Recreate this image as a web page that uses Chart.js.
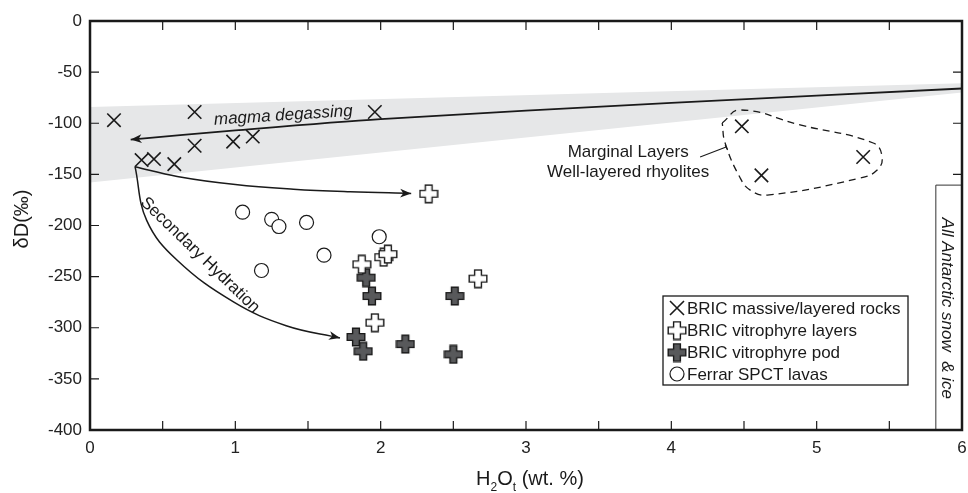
<!DOCTYPE html>
<html>
<head>
<meta charset="utf-8">
<script src="https://cdn.jsdelivr.net/npm/chart.js@4.4.0/dist/chart.umd.min.js"></script>
<style>
html,body{margin:0;padding:0;background:#fff;}
#wrap{width:968px;height:493px;}
</style>
</head>
<body>
<div id="wrap"><canvas id="myChart" width="968" height="493"></canvas></div>
<script>
// BRIC massive/layered rocks
const massiveX=[0.165,0.72,0.985,1.12,0.72,0.355,0.44,0.58,1.96,4.485,4.62,5.32];
const massiveY=[-97,-89,-118,-113,-122,-136,-135,-140,-89,-103,-151,-133];
// BRIC vitrophyre layers
const layersX=[2.33,1.87,2.02,2.05,2.67,1.96];
const layersY=[-169,-238,-231,-228,-252,-295];
// BRIC vitrophyre pod
const podX=[1.90,1.94,2.51,1.83,1.88,2.17,2.50];
const podY=[-251,-269,-269,-309,-323,-316,-326];
// Ferrar SPCT lavas
const ferrarX=[1.05,1.25,1.30,1.49,1.18,1.61,1.99];
const ferrarY=[-187,-194,-201,-197,-244,-229,-211];

// grey magma field
const bandX=[0,6];
const bandTopY=[-84,-61];
const bandBotY=[-158,-70];
// arrows
const degassX=[6,4,2,1,0.28];
const degassY=[-66,-80,-96,-107,-116];
const flatX=[0.31,0.6,1.0,1.4,1.79,2.21];
const flatY=[-142.5,-152,-160,-164.5,-167,-168.6];
const hydX=[0.31,0.39,0.6,0.99,1.35,1.72];
const hydY=[-142.5,-195,-234,-275,-298,-310];
// marginal layers outline
const loopX=[4.35,4.474,4.886,5.389,5.45,5.416,5.30,4.66,4.543,4.474,4.37,4.35];
const loopY=[-99.7,-87,-101.7,-119.3,-133,-145.8,-153.6,-170.3,-165.4,-153.6,-119.3,-99.7];
// snow & ice box
const iceX=[5.82,5.82,6];
const iceY=[-400,-160.5,-160.5];

const xTicks=[0,1,2,3,4,5,6];
const legendLabels=['BRIC massive/layered rocks','BRIC vitrophyre layers','BRIC vitrophyre pod','Ferrar SPCT lavas'];

const pts=(xs,ys)=>xs.map((x,i)=>({x:x,y:ys[i]}));
const FONT='"Liberation Sans", Arial, sans-serif';
const INK='#1a1a1a';

function plusImage(fill){
	const c=document.createElement('canvas');
	c.width=20; c.height=20;
	const g=c.getContext('2d');
	const a=3.4, b=8.8, m=10;
	g.beginPath();
	g.moveTo(m-a,m-b); g.lineTo(m+a,m-b); g.lineTo(m+a,m-a); g.lineTo(m+b,m-a);
	g.lineTo(m+b,m+a); g.lineTo(m+a,m+a); g.lineTo(m+a,m+b); g.lineTo(m-a,m+b);
	g.lineTo(m-a,m+a); g.lineTo(m-b,m+a); g.lineTo(m-b,m-a); g.lineTo(m-a,m-a);
	g.closePath();
	g.fillStyle=fill; g.fill();
	g.lineWidth=1.4; g.strokeStyle=INK; g.stroke();
	return c;
}
const whitePlus=plusImage('#ffffff');
const greyPlus=plusImage('#58595b');

function arrowHead(ctx,fx,fy,tx,ty){
	const ang=Math.atan2(ty-fy,tx-fx), L=11, W=4.3;
	ctx.save();
	ctx.translate(tx,ty); ctx.rotate(ang);
	ctx.beginPath();
	ctx.moveTo(0,0); ctx.lineTo(-L,-W); ctx.lineTo(-L*0.72,0); ctx.lineTo(-L,W);
	ctx.closePath();
	ctx.fillStyle=INK; ctx.fill();
	ctx.restore();
}

function textAt(ctx,str,x,y,deg,font){
	ctx.save();
	ctx.translate(x,y); ctx.rotate(deg*Math.PI/180);
	ctx.font=font; ctx.fillStyle=INK;
	ctx.textAlign='center'; ctx.textBaseline='middle';
	ctx.fillText(str,0,0);
	ctx.restore();
}

const extras={
	id:'extras',
	afterDraw(chart){
		const ctx=chart.ctx, xs=chart.scales.x, ys=chart.scales.y, a=chart.chartArea;
		const X=v=>xs.getPixelForValue(v), Y=v=>ys.getPixelForValue(v);

		// arrow heads at the end of the three curves
		[2,3,4].forEach(function(i){
			const d=chart.getDatasetMeta(i).data;
			const p=d[d.length-1], q=d[d.length-2];
			let fx=q.x, fy=q.y;
			if(p.cp1x!==undefined && Math.hypot(p.cp1x-p.x,p.cp1y-p.y)>1){fx=p.cp1x; fy=p.cp1y;}
			arrowHead(ctx,fx,fy,p.x,p.y);
		});

		// frame
		ctx.save();
		ctx.strokeStyle=INK; ctx.lineWidth=2.5;
		ctx.strokeRect(a.left,a.top,a.right-a.left,a.bottom-a.top);
		// inward ticks
		ctx.lineWidth=1.2;
		ctx.beginPath();
		xs.ticks.forEach(function(t){
			if(t.value<=xs.min || t.value>=xs.max) return;
			const px=X(t.value);
			ctx.moveTo(px,a.bottom); ctx.lineTo(px,a.bottom-9);
			ctx.moveTo(px,a.top); ctx.lineTo(px,a.top+9);
		});
		ys.ticks.forEach(function(t){
			if(t.value<=ys.min || t.value>=ys.max) return;
			const py=Y(t.value);
			ctx.moveTo(a.left,py); ctx.lineTo(a.left+9,py);
			if(t.value>iceY[1]){ ctx.moveTo(a.right,py); ctx.lineTo(a.right-9,py); }
		});
		ctx.stroke();

		// leader line for marginal layers
		ctx.lineWidth=1.1;
		ctx.beginPath();
		ctx.moveTo(X(4.198),Y(-133)); ctx.lineTo(X(4.377),Y(-123.2));
		ctx.moveTo(X(4.377)-1,Y(-123.2)-2); ctx.lineTo(X(4.377)+1.5,Y(-123.2)+3);
		ctx.stroke();
		ctx.restore();

		// annotations
		textAt(ctx,'magma degassing',X(1.33),Y(-92.5),-3.7,'italic 17px '+FONT);
		textAt(ctx,'Secondary Hydration',X(0.757),Y(-229),44,'17px '+FONT);
		textAt(ctx,'Marginal Layers',X(3.703),Y(-128),0,'17px '+FONT);
		textAt(ctx,'Well-layered rhyolites',X(3.703),Y(-147.6),0,'17px '+FONT);
		textAt(ctx,'All Antarctic snow  & ice',X(5.898),Y(-281),90,'italic 17px '+FONT);

		// axis titles
		textAt(ctx,'δD(‰)',22,219,-90,'20px '+FONT);
		ctx.save();
		ctx.fillStyle=INK; ctx.textBaseline='alphabetic'; ctx.textAlign='left';
		const big='20px '+FONT, small='12px '+FONT;
		const parts=[['H',big,0],['2',small,6],['O',big,0],['t',small,6],[' (wt. %)',big,0]];
		let w=0;
		parts.forEach(function(p){ctx.font=p[1]; w+=ctx.measureText(p[0]).width;});
		let cx=530-w/2;
		parts.forEach(function(p){ctx.font=p[1]; ctx.fillText(p[0],cx,485+p[2]); cx+=ctx.measureText(p[0]).width;});
		ctx.restore();

		// legend
		ctx.save();
		ctx.strokeStyle=INK; ctx.lineWidth=1.3;
		ctx.strokeRect(663,296,245,89);
		const rows=[308,330.5,352.5,374];
		const mx=677;
		ctx.lineWidth=1.6;
		ctx.beginPath();
		ctx.moveTo(mx-7,rows[0]-7); ctx.lineTo(mx+7,rows[0]+7);
		ctx.moveTo(mx+7,rows[0]-7); ctx.lineTo(mx-7,rows[0]+7);
		ctx.stroke();
		ctx.drawImage(whitePlus,mx-10,rows[1]-10);
		ctx.drawImage(greyPlus,mx-10,rows[2]-10);
		ctx.lineWidth=1.2;
		ctx.beginPath(); ctx.arc(mx,rows[3],7,0,Math.PI*2); ctx.stroke();
		ctx.font='17px '+FONT; ctx.fillStyle=INK;
		ctx.textAlign='left'; ctx.textBaseline='middle';
		legendLabels.forEach(function(l,i){ctx.fillText(l,687,rows[i]+1);});
		ctx.restore();
	}
};

const ctx=document.getElementById('myChart');
const chart=new Chart(ctx,{
	type:'scatter',
	data:{
		datasets:[
			{data:pts(bandX,bandTopY),showLine:true,pointRadius:0,borderColor:'rgba(0,0,0,0)',backgroundColor:'#e6e7e8',fill:'+1',order:20},
			{data:pts(bandX,bandBotY),showLine:true,pointRadius:0,borderColor:'rgba(0,0,0,0)',fill:false,order:21},
			{data:pts(degassX,degassY),showLine:true,pointRadius:0,borderColor:INK,borderWidth:1.8,tension:0.3,order:10},
			{data:pts(flatX,flatY),showLine:true,pointRadius:0,borderColor:INK,borderWidth:1.5,tension:0.4,order:10},
			{data:pts(hydX,hydY),showLine:true,pointRadius:0,borderColor:INK,borderWidth:1.5,tension:0.4,order:10},
			{data:pts(loopX,loopY),showLine:true,pointRadius:0,borderColor:INK,borderWidth:1.3,borderDash:[7,5],tension:0.45,order:10},
			{data:pts(iceX,iceY),showLine:true,pointRadius:0,borderColor:'#333',borderWidth:1,tension:0,order:10},
			{label:legendLabels[0],data:pts(massiveX,massiveY),pointStyle:'crossRot',pointRadius:9.5,borderColor:INK,borderWidth:1.6,order:1},
			{label:legendLabels[1],data:pts(layersX,layersY),pointStyle:whitePlus,pointRadius:10,order:1},
			{label:legendLabels[2],data:pts(podX,podY),pointStyle:greyPlus,pointRadius:10,order:1},
			{label:legendLabels[3],data:pts(ferrarX,ferrarY),pointStyle:'circle',pointRadius:7,borderColor:INK,borderWidth:1.2,backgroundColor:'#ffffff',order:1}
		]
	},
	options:{
		responsive:false,
		animation:false,
		events:[],
		layout:{autoPadding:false,padding:{top:21,right:6,left:0,bottom:0}},
		plugins:{legend:{display:false},tooltip:{enabled:false}},
		scales:{
			x:{
				type:'linear',min:0,max:6,
				grid:{display:false,drawTicks:false},border:{display:false},
				ticks:{stepSize:0.5,padding:8,color:'#222',font:{family:FONT,size:17},
					callback:function(v){return xTicks.indexOf(v)>=0?String(v):'';}},
				afterFit:function(s){s.height=63; s.paddingLeft=0; s.paddingRight=0;}
			},
			y:{
				type:'linear',min:-400,max:0,
				grid:{display:false,drawTicks:false},border:{display:false},
				ticks:{stepSize:50,padding:8,color:'#222',font:{family:FONT,size:17}},
				afterFit:function(s){s.width=90; s.paddingTop=0; s.paddingBottom=0;}
			}
		}
	},
	plugins:[extras]
});
</script>
</body>
</html>
